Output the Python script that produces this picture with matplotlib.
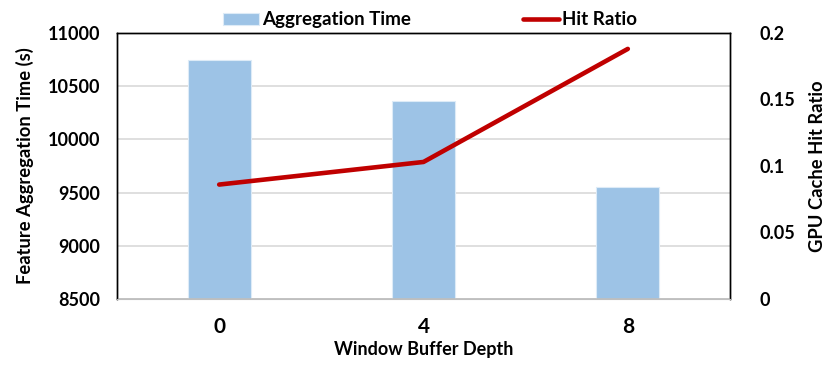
import numpy as np
import matplotlib
matplotlib.use("Agg")
import matplotlib.pyplot as plt

plt.rcParams['font.family'] = ['Lato', 'DejaVu Sans']
plt.rcParams['font.weight'] = 'bold'

# data
depths = ['0', '4', '8']
agg_time = [10750, 10360, 9550]
hit_ratio = [0.086, 0.103, 0.188]

x = np.arange(len(depths))

fig = plt.figure(figsize=(8.3, 3.7), dpi=100)
ax = fig.add_axes([0.141, 0.192, 0.7385, 0.719])
ax2 = ax.twinx()

bars = ax.bar(x, agg_time, width=0.31, color='#9DC3E6', edgecolor='#DDEBF7',
              linewidth=0.8, label='Aggregation Time', zorder=2)
line, = ax2.plot(x, hit_ratio, color='#C00000', linewidth=3.3,
                 solid_capstyle='round', label='Hit Ratio', zorder=3)

ax.set_xlim(-0.5, 2.5)
ax.set_ylim(8500, 11000)
ax.set_yticks(np.arange(8500, 11001, 500))
ax2.set_ylim(0, 0.2)
ax2.set_yticks([0, 0.05, 0.1, 0.15, 0.2])
ax2.set_yticklabels(['0', '0.05', '0.1', '0.15', '0.2'])

ax.set_xticks(x)
ax.set_xticklabels(depths, fontsize=15, fontweight='bold')
ax.tick_params(axis='x', length=0, pad=13)
ax.tick_params(axis='y', length=0, labelsize=13, pad=12)
ax2.tick_params(axis='y', length=0, labelsize=13, pad=21)

ax.grid(axis='y', color='#D9D9D9', linewidth=1.2, zorder=0)
ax.set_axisbelow(True)

for sp in ['left', 'top', 'right']:
    ax.spines[sp].set_color('black')
    ax.spines[sp].set_linewidth(1.0)
    ax2.spines[sp].set_color('black')
    ax2.spines[sp].set_linewidth(1.0)
ax.spines['bottom'].set_color('#BFBFBF')
ax2.spines['bottom'].set_color('#BFBFBF')
ax.spines['bottom'].set_linewidth(1.2)

ax.set_xlabel('Window Buffer Depth', fontsize=13, fontweight='bold', labelpad=3)
ax.set_ylabel('Feature Aggregation Time (s)', fontsize=13.2, fontweight='bold', labelpad=10)
ax2.set_ylabel('GPU Cache Hit Ratio', fontsize=13.2, fontweight='bold', labelpad=10)

fig.legend([bars, line], ['Aggregation Time', 'Hit Ratio'], ncol=2,
           loc='center', bbox_to_anchor=(0.518, 0.946), frameon=False,
           fontsize=13.5, handlelength=1.9, handleheight=0.6,
           handletextpad=0.15, columnspacing=6.0)

fig.savefig('out.png', dpi=100)
